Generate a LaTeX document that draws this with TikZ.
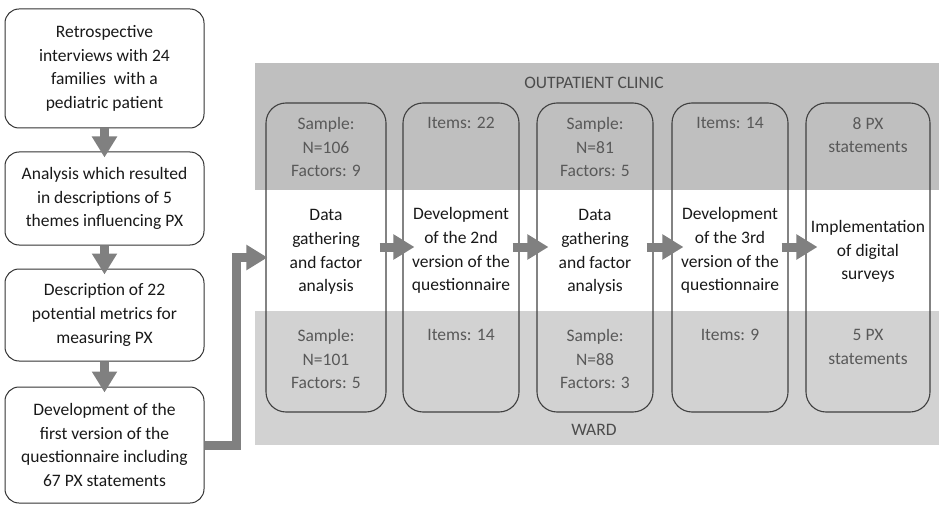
\documentclass[tikz,border=0pt]{standalone}
\usepackage{fontspec}
\setmainfont{Carlito}
\usetikzlibrary{arrows.meta}

\tikzset{
  stage/.style={draw=black!80, line width=1pt, rounded corners=14pt,
    align=center, minimum width=199pt, inner sep=0pt, text=black!90},
  phase/.style={draw=black!75, line width=1.1pt, rounded corners=20pt,
    minimum height=309pt, inner sep=0pt},
  note/.style={align=center, text=black!65, inner sep=0pt},
  task/.style={align=center, text=black!90, inner sep=0pt},
  flow/.style={draw=black!50, line width=9pt,
    -{Triangle[width=24pt,length=21pt]}},
}

\begin{document}
\begin{tikzpicture}[x=1pt, y=-1pt, font=\fontsize{17.5}{23.7}\selectfont]
  \useasboundingbox (0,0) rectangle (939,505);

  % bands
  \fill[gray!50] (255,63) rectangle (939,190);
  \fill[gray!35] (255,311) rectangle (939,445);
  \node[note, text=black!70] (outpatient) at (594,83) {OUTPATIENT CLINIC};
  \node[note, text=black!70] (ward) at (594,430) {WARD};

  % left column
  \node[stage, minimum height=119pt] (l1) at (104.5,68.5)
    {Retrospective\\interviews with 24\\families\ \ with a\\pediatric patient};
  \node[stage, minimum height=93pt] (l2) at (104.5,198.5)
    {Analysis which resulted\\in descriptions of 5\\themes influencing PX};
  \node[stage, minimum height=92pt] (l3) at (104.5,315)
    {Description of 22\\potential metrics for\\measuring PX};
  \node[stage, minimum height=116pt] (l4) at (104.5,445)
    {Development of the\\first version of the\\questionnaire including\\67 PX statements};

  \draw[flow, shorten >=-6pt] (l1.south) -- (l2.north);
  \draw[flow, shorten >=-6pt] (l2.south) -- (l3.north);
  \draw[flow, shorten >=-6pt] (l3.south) -- (l4.north);

  % phases
  \node[phase, minimum width=120pt] (pa) at (326,257.5) {};
  \node[phase, minimum width=116pt] (pb) at (461,257.5) {};
  \node[phase, minimum width=116pt] (pc) at (595,257.5) {};
  \node[phase, minimum width=116pt] (pd) at (730,257.5) {};
  \node[phase, minimum width=124pt] (pe) at (868,257.5) {};

  \node[note, anchor=north] (pa-top) at (326,117) {Sample:\\N=106\\Factors: 9};
  \node[task] (pa-mid) at (326,252) {Data\\gathering\\and factor\\analysis};
  \node[note, anchor=north] (pa-bot) at (326,329) {Sample:\\N=101\\Factors: 5};

  \node[note, anchor=north] (pb-top) at (461,117) {Items: 22};
  \node[task] (pb-mid) at (461,250.5) {Development\\of the 2nd\\version of the\\questionnaire};
  \node[note, anchor=north] (pb-bot) at (461,329) {Items: 14};

  \node[note, anchor=north] (pc-top) at (595,117) {Sample:\\N=81\\Factors: 5};
  \node[task] (pc-mid) at (595,252) {Data\\gathering\\and factor\\analysis};
  \node[note, anchor=north] (pc-bot) at (595,329) {Sample:\\N=88\\Factors: 3};

  \node[note, anchor=north] (pd-top) at (730,117) {Items: 14};
  \node[task] (pd-mid) at (730,250.5) {Development\\of the 3rd\\version of the\\questionnaire};
  \node[note, anchor=north] (pd-bot) at (730,329) {Items: 9};

  \node[note, anchor=north] (pe-top) at (868,117) {8 PX\\statements};
  \node[task] (pe-mid) at (868,251.5) {Implementation\\of digital\\surveys};
  \node[note, anchor=north] (pe-bot) at (868,329) {5 PX\\statements};

  % arrows
  \draw[flow, shorten >=-2pt] (l4.east) -- ++(32,0) |- (pa.west);
  \draw[flow, shorten <=-7pt, shorten >=-12pt] ([yshift=10.5pt]pa.east) -- ([yshift=10.5pt]pb.west);
  \draw[flow, shorten <=-7pt, shorten >=-12pt] ([yshift=10.5pt]pb.east) -- ([yshift=10.5pt]pc.west);
  \draw[flow, shorten <=-7pt, shorten >=-12pt] ([yshift=10.5pt]pc.east) -- ([yshift=10.5pt]pd.west);
  \draw[flow, shorten <=-7pt, shorten >=-12pt] ([yshift=10.5pt]pd.east) -- ([yshift=10.5pt]pe.west);
\end{tikzpicture}
\end{document}
